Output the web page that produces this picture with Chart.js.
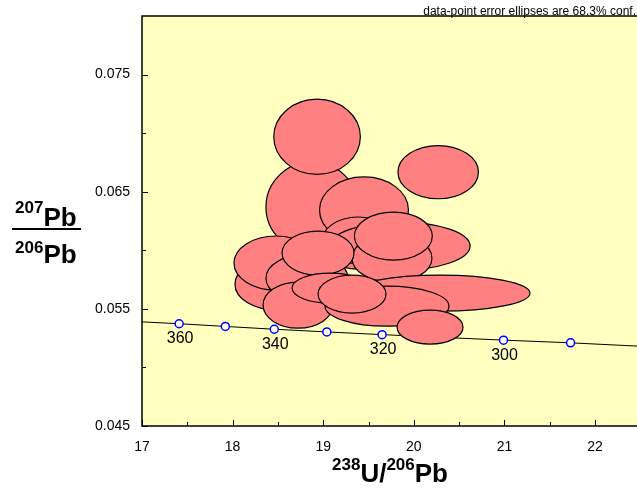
<!DOCTYPE html>
<html>
<head>
<meta charset="utf-8">
<script src="https://cdn.jsdelivr.net/npm/chart.js@4.4.1/dist/chart.umd.min.js"></script>
<style>
  html, body { margin: 0; padding: 0; background: #fff; overflow: hidden; }
  #wrap { position: relative; width: 660px; height: 490px; }
  #chart { position: absolute; left: 0; top: 0; }
  .ttl { position: absolute; font-family: "Liberation Sans", Arial, sans-serif; font-weight: bold; font-size: 26px; line-height: 26px; color: #000; white-space: nowrap; }
  .ttl .sup { font-size: 17px; position: relative; }
  .bar { position: absolute; left: 12px; top: 228px; width: 69px; height: 2px; background: #000; }
  .note { position: absolute; left: 0; width: 636px; top: 5px; text-align: right; font: 12px/12px "Liberation Sans", Arial, sans-serif; color: #000; white-space: nowrap; }
</style>
</head>
<body>
<div id="wrap">
  <canvas id="chart" width="660" height="490"></canvas>
  <div class="note">data-point error ellipses are 68.3% conf.</div>
  <div class="ttl" style="left:15px; top:204px;"><span class="sup" style="top:-13px;">207</span>Pb</div>
  <div class="bar"></div>
  <div class="ttl" style="left:15px; top:241px;"><span class="sup" style="top:-10px;">206</span>Pb</div>
  <div class="ttl" style="left:332px; top:460px;"><span class="sup" style="top:-12px;">238</span>U/<span class="sup" style="top:-12px;">206</span>Pb</div>
</div>
<script>
// ===== Data =====
const X_MIN = 17, X_MAX = 22.6;
const Y_MIN = 0.045, Y_MAX = 0.080;
const xMajor = [17, 18, 19, 20, 21, 22];
const xMinor = [17.5, 18.5, 19.5, 20.5, 21.5, 22.5];
const yMajor = [0.045, 0.055, 0.065, 0.075];
const yMinor = [0.050, 0.060, 0.070];

// concordia age marks (Ma)
const ageMa = [360, 350, 340, 330, 320, 310, 300, 290];
const ageLabel = ["360", "", "340", "", "320", "", "300", ""];
const ageX = [17.41, 17.92, 18.46, 19.04, 19.65, 20.30, 20.99, 21.73];
const ageY = [0.05373, 0.05350, 0.05326, 0.05303, 0.05280, 0.05257, 0.05233, 0.05210];

// concordia curve ends
const curveStart = [17.0, 0.05389];
const curveEnd = [22.6, 0.05177];

// error ellipses: centre and half-axes, in drawing order
const ellX  = [18.876, 18.932, 20.269, 19.450, 18.490, 18.479, 19.384, 19.848, 19.759, 19.774, 18.821, 18.943, 18.722, 20.289, 19.704, 19.075, 19.318, 20.179];
const ellY  = [0.06369, 0.06969, 0.06667, 0.06344, 0.05711, 0.05891, 0.06062, 0.06036, 0.05933, 0.06121, 0.05762, 0.05976, 0.05532, 0.05634, 0.05523, 0.05677, 0.05626, 0.05344];
const ellRx = [0.508, 0.478, 0.444, 0.491, 0.464, 0.464, 0.408, 0.773, 0.441, 0.430, 0.453, 0.397, 0.386, 0.993, 0.684, 0.419, 0.375, 0.364];
const ellRy = [0.00385, 0.00321, 0.00227, 0.00282, 0.00222, 0.00231, 0.00222, 0.00205, 0.00205, 0.00205, 0.00205, 0.00188, 0.00197, 0.00154, 0.00171, 0.00128, 0.00162, 0.00145];

const FONT = '"Liberation Sans", Arial, sans-serif';

// ===== Plugins =====
const plotFrame = {
  id: "plotFrame",
  beforeDatasetsDraw(chart) {
    const { ctx, chartArea: a } = chart;
    ctx.save();
    ctx.fillStyle = "#ffffc0";
    ctx.fillRect(a.left, a.top, a.right - a.left, a.bottom - a.top);
    ctx.restore();
  },
  afterDraw(chart) {
    const { ctx, chartArea: a, scales } = chart;
    ctx.save();
    ctx.strokeStyle = "#000";
    ctx.lineWidth = 1.5;
    ctx.strokeRect(a.left, a.top, a.right - a.left, a.bottom - a.top);
    ctx.lineWidth = 1;
    ctx.beginPath();
    const tick = (vals, len) => {
      vals.forEach((v) => {
        const px = Math.round(scales.x.getPixelForValue(v)) + 0.5;
        ctx.moveTo(px, a.bottom);
        ctx.lineTo(px, a.bottom - len);
      });
    };
    tick(xMajor, 6);
    tick(xMinor, 4);
    const ytick = (vals, len) => {
      vals.forEach((v) => {
        const py = Math.round(scales.y.getPixelForValue(v)) + 0.5;
        ctx.moveTo(a.left, py);
        ctx.lineTo(a.left + len, py);
      });
    };
    ytick(yMajor, 6);
    ytick(yMinor, 4);
    ctx.stroke();
    ctx.restore();
  },
};

const ellipses = {
  id: "ellipses",
  afterDatasetsDraw(chart) {
    const { ctx, chartArea: a, scales } = chart;
    const xs = scales.x, ys = scales.y;
    ctx.save();
    ctx.beginPath();
    ctx.rect(a.left, a.top, a.right - a.left, a.bottom - a.top);
    ctx.clip();
    ctx.fillStyle = "#ff8080";
    ctx.strokeStyle = "#000";
    ctx.lineWidth = 1.2;
    for (let i = 0; i < ellX.length; i++) {
      const cx = xs.getPixelForValue(ellX[i]);
      const cy = ys.getPixelForValue(ellY[i]);
      const rx = xs.getPixelForValue(ellX[i] + ellRx[i]) - cx;
      const ry = cy - ys.getPixelForValue(ellY[i] + ellRy[i]);
      ctx.beginPath();
      ctx.ellipse(cx, cy, rx, ry, 0, 0, Math.PI * 2);
      ctx.fill();
      ctx.stroke();
    }
    ctx.restore();

    // age labels under the concordia marks
    ctx.save();
    ctx.fillStyle = "#000";
    ctx.font = "16px " + FONT;
    ctx.textAlign = "center";
    ctx.textBaseline = "middle";
    ageLabel.forEach((t, i) => {
      if (!t) return;
      const px = xs.getPixelForValue(ageX[i]);
      const py = ys.getPixelForValue(ageY[i]);
      ctx.fillText(t, px + 1, py + 15);
    });
    ctx.restore();
  },
};

// keep the plot box fixed: no extra room for edge labels
const noEdgePad = (s) => {
  s.paddingTop = 0;
  s.paddingBottom = 0;
  s.paddingLeft = 0;
  s.paddingRight = 0;
};

// ===== Chart =====
new Chart(document.getElementById("chart"), {
  type: "scatter",
  data: {
    datasets: [
      {
        label: "ages",
        data: ageX.map((x, i) => ({ x, y: ageY[i] })),
        pointRadius: 4,
        pointBackgroundColor: "#ffffff",
        pointBorderColor: "#0000ff",
        pointBorderWidth: 1.5,
        showLine: false,
        order: 0,
      },
      {
        label: "concordia",
        data: [
          { x: curveStart[0], y: curveStart[1] },
          ...ageX.map((x, i) => ({ x, y: ageY[i] })),
          { x: curveEnd[0], y: curveEnd[1] },
        ],
        showLine: true,
        borderColor: "#000",
        borderWidth: 1,
        pointRadius: 0,
        tension: 0,
        order: 1,
      },
    ],
  },
  options: {
    responsive: false,
    animation: false,
    devicePixelRatio: 1,
    layout: { padding: { left: 0, top: 16, right: 10.6, bottom: 0 } },
    plugins: { legend: { display: false }, tooltip: { enabled: false } },
    scales: {
      x: {
        type: "linear",
        min: X_MIN,
        max: X_MAX,
        afterBuildTicks: (s) => { s.ticks = xMajor.map((v) => ({ value: v })); },
        afterFit: (s) => { s.height = 64; noEdgePad(s); },
        grid: { display: false, drawTicks: false },
        border: { display: false },
        ticks: {
          autoSkip: false,
          maxRotation: 0,
          padding: 13,
          color: "#000",
          font: { family: FONT, size: 14 },
          callback: (v) => String(v),
        },
      },
      y: {
        type: "linear",
        min: Y_MIN,
        max: Y_MAX,
        afterBuildTicks: (s) => { s.ticks = yMajor.map((v) => ({ value: v })); },
        afterFit: (s) => { s.width = 142; noEdgePad(s); },
        grid: { display: false, drawTicks: false },
        border: { display: false },
        ticks: {
          autoSkip: false,
          padding: 12,
          color: "#000",
          font: { family: FONT, size: 14 },
          callback: (v) => v.toFixed(3),
        },
      },
    },
  },
  plugins: [plotFrame, ellipses],
});
</script>
</body>
</html>
